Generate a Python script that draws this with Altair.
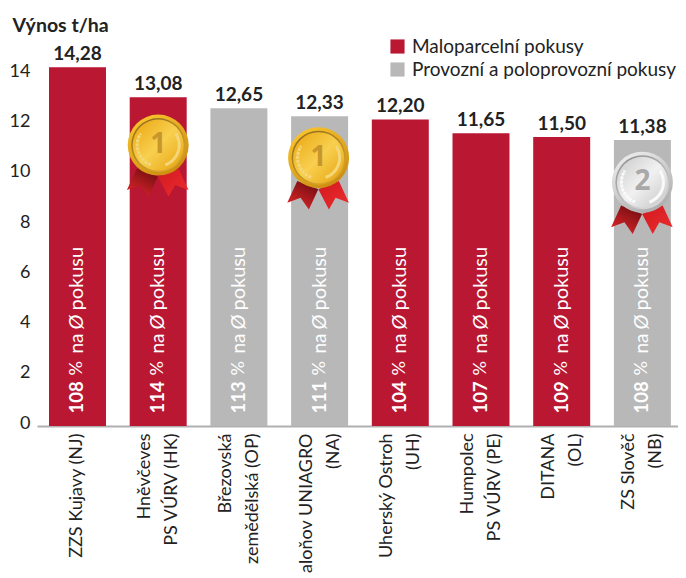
import altair as alt
import pandas as pd

names = ["ZZS Kujavy (NJ)", "Hněvčeves\nPS VÚRV (HK)", "Březovská\nzemědělská (OP)", "aloňov UNIAGRO\n(NA)",
         "Uherský Ostroh\n(UH)", "Humpolec\nPS VÚRV (PE)", "DITANA\n(OL)", "ZS Slověč\n(NB)"]
values = [14.28, 13.08, 12.65, 12.33, 12.20, 11.65, 11.50, 11.38]
pcts = ["108", "114", "113", "111", "104", "107", "109", "108"]
kinds = ["Maloparcelní pokusy", "Maloparcelní pokusy", "Provozní a poloprovozní pokusy", "Provozní a poloprovozní pokusy",
         "Maloparcelní pokusy", "Maloparcelní pokusy", "Maloparcelní pokusy", "Provozní a poloprovozní pokusy"]
kind_order = ["Maloparcelní pokusy", "Provozní a poloprovozní pokusy"]
medal_names = [names[1], names[3], names[7]]
medal_heights = [11.18, 10.68, 9.70]
medal_digits = ["1", "1", "2"]

FONT = "Lato"
RED = "#b91732"
GREY = "#b8b8b8"
INK = "#222222"

df = pd.DataFrame({"name": names, "value": values, "pct": pcts, "kind": kinds,
                   "label": [f"{v:.2f}".replace(".", ",") for v in values],
                   "pc": "%", "na": "na", "oslash": "Ø", "tail": "pokusu"})

x = alt.X("name:N", sort=names, title=None,
          scale=alt.Scale(paddingInner=0.294, paddingOuter=0.1185, align=0.628),
          axis=alt.Axis(labelAngle=270, labelAlign="right", labelBaseline="middle",
                        labelExpr="split(datum.label,'\\n')", labelLineHeight=27, labelFontSize=18,
                        labelOffset={"condition": {"test": "indexof(datum.value,'\\n')>=0", "value": -13}, "value": 0},
                        labelFont=FONT, labelColor=INK, labelPadding=7, labelLimit=400, labelOverlap=False,
                        ticks=False, domainColor="#b0b0b0", domainWidth=2, grid=False))
y = alt.Y("value:Q", title="Výnos t/ha", scale=alt.Scale(domain=[0, 16], nice=False),
          axis=alt.Axis(values=list(range(0, 15, 2)), grid=False, domain=False, ticks=False, labelFont=FONT,
                        labelFontSize=18, labelColor=INK, labelPadding=7, labelOffset=-3, labelOverlap=False,
                        titleAngle=0, titleX=-25, titleY=1, titleAlign="left", titleBaseline="middle",
                        titleFont=FONT, titleFontSize=19.5, titleFontWeight="bold", titleColor=INK))

bars = alt.Chart(df).mark_bar().encode(
    x=x, y=y,
    color=alt.Color("kind:N", scale=alt.Scale(domain=kind_order, range=[RED, GREY]),
                    legend=alt.Legend(title=None, orient="none", legendX=351, legendY=13, symbolType="square",
                                      symbolSize=200, symbolStrokeWidth=0, symbolOpacity=1, labelFont=FONT,
                                      labelFontSize=19, labelColor=INK, rowPadding=3, labelOffset=5, labelLimit=400)))

base = alt.Chart(df)
xb = alt.X("name:N", sort=names)
top_labels = base.mark_text(font=FONT, fontSize=19, fontWeight="bold", color=INK, baseline="bottom", dy=-3).encode(
    x=xb, y="value:Q", text="label:N")

def inside(field, dx, size=20, **style):
    return base.mark_text(font=FONT, color="white", angle=270, align="left", baseline="middle", fontSize=size, dx=dx,
                          **style).encode(x=xb, y=alt.value(389.5), text=field)

inner = [
    inside("pct:N", 0, 18.5, fontWeight="bold"),
    inside("pc:N", 38, 18),
    inside("na:N", 60, 19),
    inside("oslash:N", 84, fontStyle="italic"),
    inside("tail:N", 103),
]

LEFT_RIBBON = "M-.355 .388L-.522 .75L-.3 .667L-.162 .862L-.005 .528Z"
RIGHT_RIBBON = "M-.005 .528L.172 .862L.283 .667L.505 .75L.338 .388Z"
GOLD = dict(edge=["#f9c52b", "#c98a10"], ring=["#8f6a1f", "#e3ad2b"], face=["#e9a40c", "#f8cf4f", "#e6a30f"],
            dots="#f4d77a", digit="#c8962a")
SILVER = dict(edge=["#eeeeee", "#a9a9a9"], ring=["#8e8e8e", "#dedede"], face=["#c9c9c9", "#f1f1f1", "#c4c4c4"],
              dots="#fafafa", digit="#a9a9a9")

def grad(cols, x1=0, y1=0, x2=1, y2=1):
    n = len(cols) - 1
    return alt.Gradient(gradient="linear", x1=x1, y1=y1, x2=x2, y2=y2,
                        stops=[alt.GradientStop(offset=i / n, color=c) for i, c in enumerate(cols)])

def medal(name, height, digit, pal, shift=0):
    d = alt.Chart(pd.DataFrame({"name": [name], "value": [height], "digit": [digit]}))
    enc = dict(x=xb, y="value:Q")
    def pt(shape, size, fill):
        return d.mark_point(shape=shape, size=size, filled=True, fill=fill, opacity=1, strokeWidth=0, xOffset=shift).encode(**enc)
    def arc(t1, t2):
        return d.mark_arc(innerRadius=21, outerRadius=21, theta=t1, theta2=t2, stroke=pal["dots"], strokeWidth=3,
                          strokeDash=[2, 2], xOffset=shift).encode(**enc)
    return [
        pt(LEFT_RIBBON, 14400, grad(["#6e0d10", "#e0262a"], 0.8, 0, 0.2, 1)),
        pt(RIGHT_RIBBON, 14400, grad(["#d01a20", "#ee2c2e"], 0, 0, 1, 1)),
        pt("circle", 3721, grad(pal["edge"], 0.2, 0, 0.8, 1)),
        pt("circle", 2916, grad(pal["ring"], 0.2, 0, 0.8, 1)),
        pt("circle", 2601, grad(pal["face"])),
        arc(3.5, 5.3), arc(0.98, 2.8),
        d.mark_text(font="Open Sans", fontSize=28, fontWeight="bold", color=pal["digit"], baseline="middle", xOffset=shift).encode(
            x=xb, y="value:Q", text="digit:N"),
    ]

layers = [bars, top_labels] + inner
layers += medal(medal_names[0], medal_heights[0], medal_digits[0], GOLD)
layers += medal(medal_names[1], medal_heights[1], medal_digits[1], GOLD, -1)
layers += medal(medal_names[2], medal_heights[2], medal_digits[2], SILVER)

chart = alt.layer(*layers).properties(
    width=641, height=402, autosize=alt.AutoSizeParams(type="none"),
    padding={"left": 29, "top": 16, "right": 0, "bottom": 150}
).configure_view(stroke=None)

chart.save("out.html", embed_options={"renderer": "svg", "actions": False})
